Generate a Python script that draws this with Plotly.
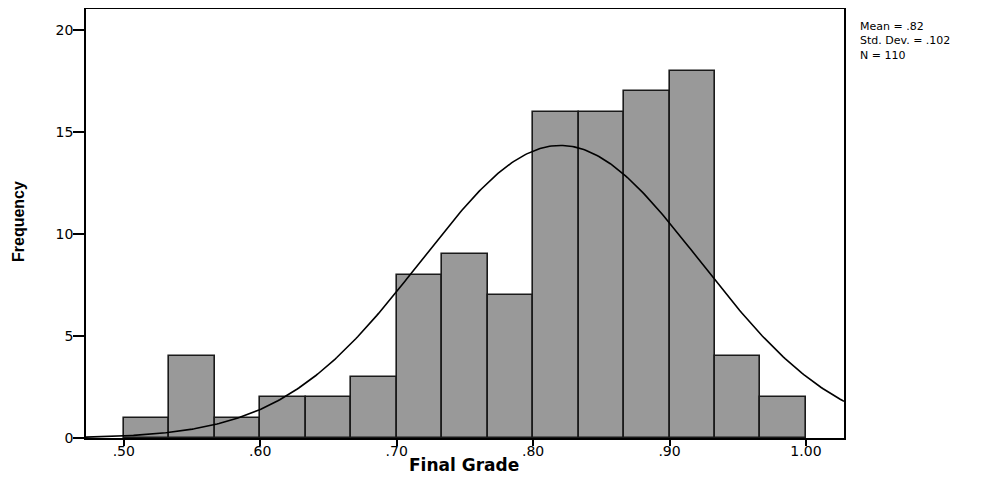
import numpy as np
import plotly.graph_objects as go

# Histogram data (Final Grade)
bin_start = 0.50
bin_width = 1 / 30
counts = [1, 4, 1, 2, 2, 3, 8, 9, 7, 16, 16, 17, 18, 4, 2]
mean_val = 0.82
sd_val = 0.102
n_val = 110
x_tick_vals = [0.50, 0.60, 0.70, 0.80, 0.90, 1.00]
x_tick_text = [".50", ".60", ".70", ".80", ".90", "1.00"]
y_tick_vals = [0, 5, 10, 15, 20]
stats_lines = ["Mean = .82", "Std. Dev. = .102", "N = 110"]

x_range = [0.4723, 1.0279]
y_range = [0, 21.03]

centers = [bin_start + bin_width * (i + 0.5) for i in range(len(counts))]

xs = np.linspace(x_range[0], x_range[1], 400)
ys = n_val * bin_width * np.exp(-0.5 * ((xs - mean_val) / sd_val) ** 2) / (sd_val * np.sqrt(2 * np.pi))

fig = go.Figure()
fig.add_trace(go.Bar(
    x=centers, y=counts, width=bin_width,
    marker=dict(color="#999999", line=dict(color="#1a1a1a", width=1.6)),
    showlegend=False, hoverinfo="x+y",
))
fig.add_trace(go.Scatter(
    x=xs, y=ys, mode="lines", line=dict(color="black", width=1.6),
    showlegend=False, hoverinfo="skip",
))

tickfont = dict(family="DejaVu Sans, Liberation Sans, Arial", size=14, color="black")

# page body has an 8px margin; figure coordinates are offset by it
OFF = 8
W, H = 986, 469
L, R, T, B = 78, 150, 1, 39
PW, PH = W - L - R, H - T - B


def px(xs_):
    return (xs_ - OFF - L) / PW


def py(ys_):
    return 1 - (ys_ - OFF - T) / PH


fig.update_layout(
    width=W, height=H,
    margin=dict(l=L, r=R, t=T, b=B, autoexpand=False),
    paper_bgcolor="white", plot_bgcolor="white",
    bargap=0,
    xaxis=dict(
        range=x_range, tickvals=x_tick_vals, ticktext=x_tick_text,
        ticks="outside", ticklen=6, tickwidth=1.5, tickcolor="black",
        showline=True, linecolor="black", linewidth=1.5, mirror=True,
        showgrid=False, zeroline=False, tickfont=tickfont,
        automargin=False, ticklabelstandoff=-7,
    ),
    yaxis=dict(
        range=y_range, tickvals=y_tick_vals,
        ticks="outside", ticklen=11, tickwidth=1.5, tickcolor="black",
        showline=True, linecolor="black", linewidth=1.5, mirror=True,
        showgrid=False, zeroline=False, tickfont=tickfont,
        automargin=False, ticklabelstandoff=-3,
    ),
)

fig.add_annotation(
    text="<b>Final Grade</b>", xref="paper", yref="paper",
    x=px(464), y=py(465), xanchor="center", yanchor="middle",
    showarrow=False,
    font=dict(family="DejaVu Sans, Liberation Sans, Arial", size=17, color="black"),
)

fig.add_annotation(
    text="<b>Frequency</b>", textangle=-90, xref="paper", yref="paper",
    x=px(19), y=py(222), xanchor="center", yanchor="middle",
    showarrow=False,
    font=dict(family="Liberation Sans Narrow, Arial Narrow, Liberation Sans", size=16, color="black"),
)

fig.add_annotation(
    text="<br>".join(stats_lines), xref="paper", yref="paper",
    x=px(858), y=py(41), xanchor="left", yanchor="middle", align="left",
    showarrow=False,
    font=dict(family="DejaVu Sans, Liberation Sans, Arial", size=11, color="black"),
)

fig.write_html("out.html")
